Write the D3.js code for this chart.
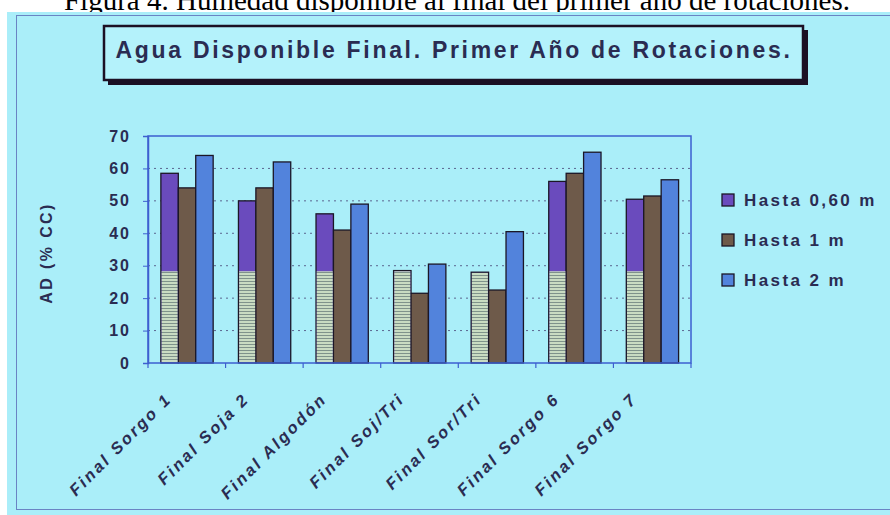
<!DOCTYPE html>
<html>
<head>
<meta charset="utf-8">
<script src="https://cdn.jsdelivr.net/npm/d3@7"></script>
<style>
  html, body { margin: 0; padding: 0; background: #fff; }
  svg { display: block; }
</style>
</head>
<body>
<div id="chart"></div>
<script>
// data
var categories = ["Final Sorgo 1", "Final Soja 2", "Final Algodón", "Final Soj/Tri",
                  "Final Sor/Tri", "Final Sorgo 6", "Final Sorgo 7"];
var seriesNames = ["Hasta 0,60 m", "Hasta 1 m", "Hasta 2 m"];
var hasta060 = [58.5, 50, 46, 28.5, 28, 56, 50.5];
var hasta1 = [54, 54, 41, 21.5, 22.5, 58.5, 51.5];
var hasta2 = [64, 62, 49, 30.5, 40.5, 65, 56.5];
// lower hatched part of the first bar
var hatched060 = [28.5, 28.5, 28.5, 28.5, 28, 28.5, 28.5];
var yTicks = [0, 10, 20, 30, 40, 50, 60, 70];

var W = 890, H = 515;
var bg = "#aaeef9";
var ink = "#2a2c52";
var colors = ["#6a4bbd", "#6e5a4a", "#5283dc"];

var svg = d3.select("#chart").append("svg")
    .attr("width", W)
    .attr("height", H);

var defs = svg.append("defs");
var pat = defs.append("pattern")
    .attr("id", "hatch")
    .attr("patternUnits", "userSpaceOnUse")
    .attr("width", 4)
    .attr("height", 3);
pat.append("rect").attr("width", 4).attr("height", 3).attr("fill", "#c9dcc2");
pat.append("rect").attr("y", 2).attr("width", 4).attr("height", 1).attr("fill", "#7f938b");

// caption (cut off by the panel)
svg.append("text")
    .attr("x", 457)
    .attr("y", 10)
    .attr("text-anchor", "middle")
    .style("font-family", "'Liberation Serif', 'Times New Roman', serif")
    .style("font-size", "29px")
    .attr("fill", "#000")
    .text("Figura 4. Humedad disponible al final del primer año de rotaciones.");

// panel
svg.append("rect")
    .attr("x", 7).attr("y", 12)
    .attr("width", W - 7).attr("height", H - 12)
    .attr("fill", bg);
svg.append("rect")
    .attr("x", 16.5).attr("y", 15.5)
    .attr("width", W).attr("height", 494)
    .attr("fill", "none")
    .attr("stroke", "#6a84c4")
    .attr("stroke-width", 1);

// title box
svg.append("rect")
    .attr("x", 108).attr("y", 30)
    .attr("width", 700).attr("height", 55)
    .attr("fill", "#1c1024");
svg.append("rect")
    .attr("x", 104).attr("y", 26)
    .attr("width", 699).attr("height", 54)
    .attr("fill", "#b4f2fb")
    .attr("stroke", "#1c1024")
    .attr("stroke-width", 2.5);
svg.append("text")
    .attr("x", 454)
    .attr("y", 58)
    .attr("text-anchor", "middle")
    .style("font-family", "Arial, 'Liberation Sans', sans-serif")
    .style("font-size", "23px")
    .style("font-weight", "bold")
    .style("letter-spacing", "2.7px")
    .attr("fill", ink)
    .text("Agua Disponible Final. Primer Año de Rotaciones.");

// plot area
var plotL = 148, plotR = 691, plotT = 136, plotB = 363;

var x0 = d3.scaleBand().domain(categories).range([plotL, plotR]).padding(0);
var bw = x0.bandwidth();
var x1 = d3.scaleBand().domain([0, 1, 2]).range([bw * 0.166, bw * 0.84]).padding(0);
var y = d3.scaleLinear().domain([0, 70]).range([plotB, plotT]);

// dotted grid
svg.append("g")
    .selectAll("line")
    .data(yTicks.filter(function (d) { return d > 0 && d < 70; }))
    .enter().append("line")
    .attr("x1", plotL).attr("x2", plotR)
    .attr("y1", function (d) { return y(d); })
    .attr("y2", function (d) { return y(d); })
    .attr("stroke", "#5a6690")
    .attr("stroke-width", 1)
    .attr("stroke-dasharray", "2,4");

// bars
var rows = categories.map(function (c, i) {
    return { cat: c, vals: [hasta060[i], hasta1[i], hasta2[i]], hatch: hatched060[i] };
});

var groups = svg.append("g").selectAll("g")
    .data(rows)
    .enter().append("g")
    .attr("transform", function (d) { return "translate(" + x0(d.cat) + ",0)"; });

groups.selectAll("rect.bar")
    .data(function (d) { return d.vals.map(function (v, k) { return { k: k, v: v }; }); })
    .enter().append("rect")
    .attr("class", "bar")
    .attr("x", function (d) { return x1(d.k); })
    .attr("width", x1.bandwidth())
    .attr("y", function (d) { return y(d.v); })
    .attr("height", function (d) { return y(0) - y(d.v); })
    .attr("fill", function (d) { return colors[d.k]; })
    .attr("stroke", "#1b1626")
    .attr("stroke-width", 1.3);

// hatched lower part of the first series
groups.append("rect")
    .attr("x", x1(0) + 0.7)
    .attr("width", x1.bandwidth() - 1.4)
    .attr("y", function (d) { return y(Math.min(d.hatch, d.vals[0])) + 0.7; })
    .attr("height", function (d) { return y(0) - y(Math.min(d.hatch, d.vals[0])) - 1.4; })
    .attr("fill", "url(#hatch)");

// frame
svg.append("rect")
    .attr("x", plotL).attr("y", plotT)
    .attr("width", plotR - plotL).attr("height", plotB - plotT)
    .attr("fill", "none")
    .attr("stroke", "#3d5fd0")
    .attr("stroke-width", 1.5);

// y axis
var yAxis = d3.axisLeft(y).tickValues(yTicks).tickSize(5).tickPadding(12);
var gy = svg.append("g")
    .attr("transform", "translate(" + plotL + ",0)")
    .call(yAxis);
gy.select(".domain").attr("stroke", "#3d5fd0").attr("stroke-width", 1.5);
gy.selectAll(".tick line").attr("stroke", "#3d5fd0");
gy.selectAll(".tick text")
    .attr("fill", ink)
    .style("font-family", "Arial, 'Liberation Sans', sans-serif")
    .style("font-size", "16px")
    .style("font-weight", "bold")
    .style("letter-spacing", "2px");

// x axis: ticks at category boundaries
var gx = svg.append("g");
gx.selectAll("line")
    .data(categories.concat(["end"]))
    .enter().append("line")
    .attr("x1", function (d, i) { return plotL + i * bw; })
    .attr("x2", function (d, i) { return plotL + i * bw; })
    .attr("y1", plotB)
    .attr("y2", plotB + 5)
    .attr("stroke", "#3d5fd0")
    .attr("stroke-width", 1.2);

gx.selectAll("text")
    .data(categories)
    .enter().append("text")
    .attr("transform", function (d) {
        return "translate(" + (x0(d) + bw / 2 - 14) + "," + (plotB + 37) + ") rotate(-45)";
    })
    .attr("text-anchor", "end")
    .attr("fill", ink)
    .style("font-family", "Arial, 'Liberation Sans', sans-serif")
    .style("font-size", "16.5px")
    .style("font-style", "italic")
    .style("font-weight", "bold")
    .style("letter-spacing", "2.5px")
    .text(function (d) { return d; });

// y title
svg.append("text")
    .attr("transform", "translate(52,253) rotate(-90)")
    .attr("text-anchor", "middle")
    .attr("fill", ink)
    .style("font-family", "Arial, 'Liberation Sans', sans-serif")
    .style("font-size", "16px")
    .style("font-weight", "bold")
    .style("letter-spacing", "2.4px")
    .text("AD (% CC)");

// legend
var legend = svg.append("g")
    .selectAll("g")
    .data(seriesNames)
    .enter().append("g")
    .attr("transform", function (d, i) { return "translate(722," + (200 + i * 40) + ")"; });

legend.append("rect")
    .attr("x", 0).attr("y", -6)
    .attr("width", 12).attr("height", 12)
    .attr("fill", function (d, i) { return colors[i]; })
    .attr("stroke", "#1b1626")
    .attr("stroke-width", 1.3);

legend.append("text")
    .attr("x", 22)
    .attr("y", 6)
    .attr("fill", ink)
    .style("font-family", "Arial, 'Liberation Sans', sans-serif")
    .style("font-size", "17px")
    .style("font-weight", "bold")
    .style("letter-spacing", "2.4px")
    .text(function (d) { return d; });
</script>
</body>
</html>
